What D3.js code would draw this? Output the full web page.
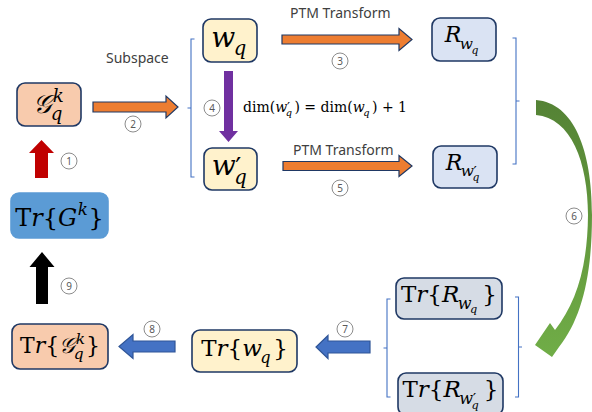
<!DOCTYPE html>
<html><head><meta charset="utf-8">
<script src="https://cdn.jsdelivr.net/npm/d3@7/dist/d3.min.js"></script>
<style>html,body{margin:0;padding:0;background:#fff;}svg{display:block;}</style>
</head><body>
<script>
// ---- content (text) ----
const stepNumbers = ["1","2","3","4","5","6","7","8","9"];
const edgeTexts = ["Subspace", "PTM Transform", "PTM Transform"];
const SCRIPT_G = "\u{1D4A2}";
const PRIME = "\u2032";
// math labels: pieces {t, i(italic), sup, sub}
const nodeLabels = {
  Gqk:   [{t:SCRIPT_G, i:true, sup:[{t:"k",i:true}], sub:[{t:"q",i:true}]}],
  wq:    [{t:"w", i:true, sub:[{t:"q",i:true}]}],
  wpq:   [{t:"w", i:true, sup:[{t:PRIME}], sub:[{t:"q",i:true}]}],
  Rwq:   [{t:"R", i:true, sub:[{t:"w",i:true, sub:[{t:"q",i:true}]}]}],
  Rwpq:  [{t:"R", i:true, sub:[{t:"w",i:true, sup:[{t:PRIME}], sub:[{t:"q",i:true}]}]}],
  TrG:   [{t:"T"},{t:"r",i:true},{t:"{"},{t:"G",i:true, sup:[{t:"k",i:true}]},{t:"}"}],
  TrGqk: [{t:"T"},{t:"r",i:true},{t:"{"},{t:SCRIPT_G,i:true, sup:[{t:"k",i:true}], sub:[{t:"q",i:true}]},{t:"}"}],
  Trwq:  [{t:"T"},{t:"r",i:true},{t:"{"},{t:"w",i:true, sub:[{t:"q",i:true}]},{t:"}"}],
  TrRwq: [{t:"T"},{t:"r",i:true},{t:"{"},{t:"R",i:true, sub:[{t:"w",i:true, sub:[{t:"q",i:true}]}]},{t:"}"}],
  TrRwpq:[{t:"T"},{t:"r",i:true},{t:"{"},{t:"R",i:true, sub:[{t:"w",i:true, sup:[{t:PRIME}], sub:[{t:"q",i:true}]}]},{t:"}"}]
};
const equation = [{t:"dim("},{t:"w",i:true, sup:[{t:PRIME}], sub:[{t:"q",i:true}]},{t:") = dim("},{t:"w",i:true, sub:[{t:"q",i:true}]},{t:") + 1"}];

// ---- layout & style ----
const W = 592, H = 412;
const boxLayout = {
  Gqk:   {x:17,  y:83,  w:64,  h:43, fs:26, fill:"#f8cbad", stroke:"#1f3864"},
  wq:    {x:203, y:19,  w:54,  h:43, fs:28, fill:"#fff2cc", stroke:"#1f3864"},
  wpq:   {x:204, y:148, w:53,  h:42, fs:28, fill:"#fff2cc", stroke:"#1f3864"},
  Rwq:   {x:432, y:18,  w:64,  h:43, fs:22, fill:"#dae3f3", stroke:"#1f3864"},
  Rwpq:  {x:433, y:146, w:64,  h:42, fs:22, fill:"#dae3f3", stroke:"#1f3864"},
  TrG:   {x:11,  y:193, w:97,  h:45, fs:24, fill:"#5b9bd5", stroke:"#5b9bd5"},
  TrGqk: {x:12,  y:324, w:96,  h:45, fs:22, fill:"#f8cbad", stroke:"#1f3864"},
  Trwq:  {x:192, y:330, w:105, h:42, fs:23, fill:"#fff2cc", stroke:"#1f3864"},
  TrRwq: {x:396, y:278, w:106, h:41, fs:23, fill:"#d6dce5", stroke:"#1f3864"},
  TrRwpq:{x:398, y:373, w:105, h:42, fs:23, fill:"#d6dce5", stroke:"#1f3864"}
};
// arrows: start point, end (tip) point, body width, head width, head length
const arrowLayout = [
  {x1:93,  y1:107,   x2:178, y2:107,   bw:10, hw:22, hl:12, fill:"#ed7d31", stroke:"#1f3864"},
  {x1:282, y1:39.5,  x2:412, y2:39.5,  bw:9,  hw:22, hl:13, fill:"#ed7d31", stroke:"#1f3864"},
  {x1:283, y1:166,   x2:412, y2:166,   bw:9,  hw:21, hl:13, fill:"#ed7d31", stroke:"#1f3864"},
  {x1:228.5,y1:71,   x2:228.5,y2:142,  bw:9,  hw:19, hl:11, fill:"#7030a0", stroke:"none"},
  {x1:41.5,y1:178,   x2:41.5,y2:140,   bw:13, hw:25, hl:13, fill:"#c00000", stroke:"none"},
  {x1:42,  y1:304,   x2:42,  y2:252,   bw:12, hw:25, hl:15, fill:"#000000", stroke:"none"},
  {x1:175, y1:346.5, x2:119, y2:346.5, bw:11, hw:24, hl:14, fill:"#4472c4", stroke:"#2f5597"},
  {x1:370, y1:347,   x2:316, y2:347,   bw:12, hw:23, hl:12, fill:"#4472c4", stroke:"#2f5597"}
];
const stepPos = [[69,161],[133,124],[340,61],[212,108],[340,188],[574,216],[345,329],[152,329],[69,286]];
// brackets: x, y1, y2, dir (+1 ticks to right, middle left), middle y
const brackets = [
  {x:191, y1:39,  y2:177, dir:1,  my:108},
  {x:516, y1:38,  y2:164, dir:-1, my:101},
  {x:387, y1:299, y2:397, dir:1,  my:348},
  {x:518.5, y1:297, y2:397, dir:-1, my:347}
];

const svg = d3.select("body").append("svg").attr("width", W).attr("height", H);
const defs = svg.append("defs");
const grad = defs.append("linearGradient").attr("id","gg").attr("x1",0).attr("y1",0).attr("x2",0).attr("y2",1);
grad.append("stop").attr("offset","0%").attr("stop-color","#548235");
grad.append("stop").attr("offset","45%").attr("stop-color","#62973d");
grad.append("stop").attr("offset","100%").attr("stop-color","#70ad47");

const SERIF = "'DejaVu Serif', 'Liberation Serif', serif";
const SANS = "'Noto Sans', 'Open Sans', 'DejaVu Sans', sans-serif";

// recursive math renderer into ONE text element (tspans); returns advance width
function renderMath(txt, pieces, x, base, fs) {
  let cx = x;
  pieces.forEach(p => {
    const t = txt.append("tspan").attr("x", cx).attr("y", base)
      .attr("font-size", fs).attr("font-style", p.i ? "italic" : "normal")
      .text(p.t);
    cx += t.node().getComputedTextLength();
    if (p.sup || p.sub) {
      const sfs = fs * 0.7;
      let ws = 0, wb = 0;
      const isPrime = p.sup && p.sup[0].t === PRIME;
      if (isPrime) {
        const pt = txt.append("tspan").attr("x", cx - 0.02 * fs).attr("y", base + 0.02 * fs)
          .attr("font-size", fs * 0.95).attr("font-style", "normal").text(PRIME);
        ws = pt.node().getComputedTextLength() - 0.02 * fs;
      } else if (p.sup) {
        const supDy = p.sub ? -0.42 * fs : -0.45 * fs;
        ws = renderMath(txt, p.sup, cx + (p.i ? 0.5 : 0), base + supDy, sfs);
      }
      if (p.sub) wb = renderMath(txt, p.sub, cx - (p.i ? 1.5 : 0), base + 0.3 * fs, sfs);
      cx += Math.max(ws, wb) + 1;
    }
  });
  return cx - x;
}
function mathText(parent, pieces, fs) {
  const txt = parent.append("text").attr("font-family", SERIF).attr("fill", "#000")
    .style("white-space", "pre");
  const w = renderMath(txt, pieces, 0, 0, fs);
  return {txt, w};
}

// boxes
Object.keys(nodeLabels).forEach(k => {
  const b = boxLayout[k];
  svg.append("rect").attr("x", b.x).attr("y", b.y).attr("width", b.w).attr("height", b.h)
    .attr("rx", 8).attr("fill", b.fill).attr("stroke", b.stroke).attr("stroke-width", 1.6);
  const g = svg.append("g");
  const {w} = mathText(g, nodeLabels[k], b.fs);
  const bb = g.node().getBBox();
  const tx = b.x + b.w / 2 - w / 2;
  const ty = b.y + b.h / 2 - (bb.y + bb.height / 2);
  g.attr("transform", `translate(${tx},${ty})`);
});

// arrows
const arrowPath = d3.line();
arrowLayout.forEach(a => {
  const L = Math.hypot(a.x2 - a.x1, a.y2 - a.y1);
  const ang = Math.atan2(a.y2 - a.y1, a.x2 - a.x1) * 180 / Math.PI;
  const pts = [[0,-a.bw/2],[L-a.hl,-a.bw/2],[L-a.hl,-a.hw/2],[L,0],[L-a.hl,a.hw/2],[L-a.hl,a.bw/2],[0,a.bw/2]];
  svg.append("path").attr("d", arrowPath(pts) + "Z")
    .attr("transform", `translate(${a.x1},${a.y1}) rotate(${ang})`)
    .attr("fill", a.fill).attr("stroke", a.stroke).attr("stroke-width", 1.2).attr("stroke-linejoin","miter");
});

// green curved arrow
svg.append("path")
  .attr("d", "M536,100 C574,103 592,150 592,215 C592,275 582,318 559,347 L552,357 L535,345 L550,323 L555,330 C576,303 587.5,268 588,215 C588,162 571,118 536,115 Z")
  .attr("fill", "url(#gg)");

// brackets
brackets.forEach(br => {
  const t = 3.5 * br.dir;
  const d = `M${br.x + t},${br.y1} L${br.x},${br.y1} L${br.x},${br.y2} L${br.x + t},${br.y2} M${br.x},${br.my} L${br.x - t},${br.my}`;
  svg.append("path").attr("d", d).attr("fill","none").attr("stroke","#4472c4").attr("stroke-width",1.1);
});

// step circles
stepNumbers.forEach((n, i) => {
  const [cx, cy] = stepPos[i];
  svg.append("circle").attr("cx", cx).attr("cy", cy).attr("r", 8)
    .attr("fill", "#fff").attr("stroke", "#7f7f7f").attr("stroke-width", 0.9);
  svg.append("text").attr("x", cx).attr("y", cy + 3.5).attr("text-anchor","middle")
    .attr("font-family", SANS).attr("font-size", 10).attr("fill", "#595959").text(n);
});

// edge texts
const edgeTextPos = [[106,63],[290,18],[293,155]];
edgeTexts.forEach((s, i) => {
  svg.append("text").attr("x", edgeTextPos[i][0]).attr("y", edgeTextPos[i][1])
    .attr("font-family", SANS).attr("font-size", 14).attr("fill", "#404040").text(s);
});

// equation
const eg = svg.append("g");
mathText(eg, equation, 14);
eg.attr("transform", `translate(243,112)`);
</script>
</body></html>
